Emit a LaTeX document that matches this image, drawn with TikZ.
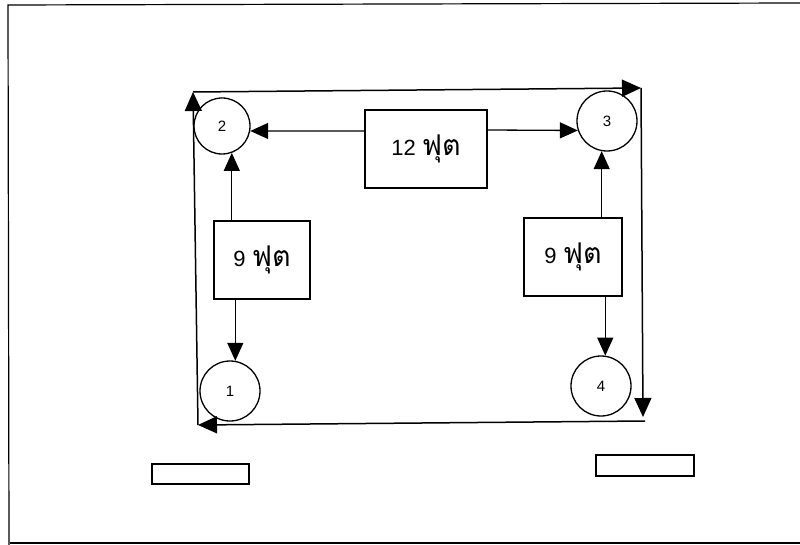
\documentclass[tikz,border=0pt]{standalone}
\usepackage{fontspec}
\setmainfont{Liberation Sans}
\newfontfamily\thaifont[Script=Thai,Scale=1.3]{Loma}
\usetikzlibrary{arrows.meta}
\begin{document}
\begin{tikzpicture}[x=1pt,y=-1pt,
  arr/.style={line width=1.3pt,-{Triangle[length=18pt,width=16pt]}},
  loopline/.style={line width=1.5pt,-{Triangle[length=19pt,width=17pt]}},
  station/.style={draw,circle,line width=1.3pt,inner sep=0pt,font=\fontsize{15}{16}\selectfont},
  distbox/.style={draw,rectangle,line width=1.3pt,inner sep=0pt,font=\fontsize{22}{24}\selectfont},
  blankbox/.style={draw,rectangle,line width=1.8pt,inner sep=0pt}]
\useasboundingbox (0,0) rectangle (800,545);
% outer frame
\draw[line width=1.2pt] (800,3) -- (8,5) -- (9,545);
\draw[line width=1.2pt] (10,543) -- (800,543);
% stations
\node[station,minimum size=56pt] (c2) at (222,126) {2};
\node[station,minimum size=60pt] (c3) at (607,121) {3};
\node[station,minimum size=60pt] (c1) at (230,391) {1};
\node[station,minimum size=60pt] (c4) at (601,386) {4};
% distance boxes
\node[distbox,minimum width=122pt,minimum height=78pt] (b12) at (426,149) {12 {\thaifont ฟุต}};
\node[distbox,minimum width=96pt,minimum height=78pt] (b9l) at (262,260) {9 {\thaifont ฟุต}};
\node[distbox,minimum width=98pt,minimum height=78pt] (b9r) at (573,257) {9 {\thaifont ฟุต}};
% blank boxes
\node[blankbox,minimum width=97pt,minimum height=20pt] (r1) at (200.5,474) {};
\node[blankbox,minimum width=98pt,minimum height=21pt] (r2) at (645,465.5) {};
% arrows from boxes
\draw[arr] (b12.west |- 0,131) -- (c2.350);
\draw[arr] (b12.east |- 0,130) -- (c3.198);
\draw[arr] (b9l.north -| c2.290) -- (c2.290);
\draw[arr] (b9l.south -| c1.80) -- (c1.80);
\draw[arr] (b9r.north -| c3.260) -- (c3.260);
\draw[arr] (b9r.south -| c4.82) -- (c4.82);
% outer loop
\coordinate (A) at (193,92);
\coordinate (B) at (641,88);
\coordinate (C) at (643,417);
\coordinate (D) at (198,425);
\coordinate (Cb) at (645,421);
\draw[loopline] (A) -- (B);
\draw[loopline] (B) -- (C);
\draw[loopline] (Cb) -- (D);
\draw[loopline] (D) -- (A);
\end{tikzpicture}
\end{document}
